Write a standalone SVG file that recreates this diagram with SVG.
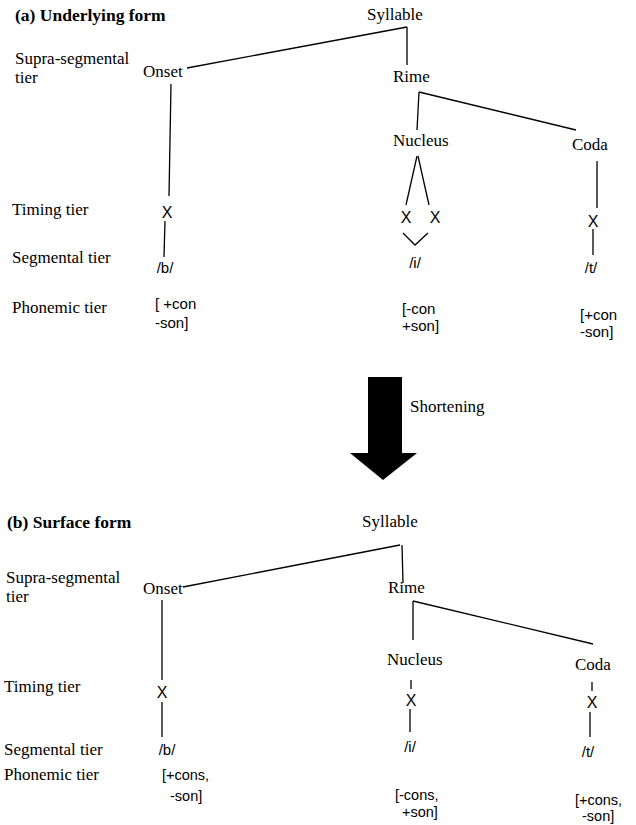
<svg xmlns="http://www.w3.org/2000/svg" width="636" height="825" viewBox="0 0 636 825">
<style>
.s{font-family:"Liberation Serif","Times New Roman",serif;font-size:17px;fill:#000}
.b{font-family:"Liberation Serif","Times New Roman",serif;font-size:17.5px;font-weight:bold;fill:#000}
.f{font-family:"Liberation Sans",Arial,sans-serif;font-size:15px;fill:#000}
.g{font-family:"Liberation Sans",Arial,sans-serif;font-size:14.5px;fill:#000}
.x{font-family:"Liberation Sans",Arial,sans-serif;font-size:16px;fill:#000;text-anchor:middle}
.m{text-anchor:middle}
.c line,.c polyline{stroke:#000;stroke-width:1.3;fill:none}
</style>
<rect width="636" height="825" fill="#fff"/>
<g id="labels-a">
<text class="b" x="15" y="21">(a) Underlying form</text>
<text class="s" x="15" y="64">Supra-segmental</text>
<text class="s" x="15" y="83">tier</text>
<text class="s" x="12" y="215">Timing tier</text>
<text class="s" x="12" y="263">Segmental tier</text>
<text class="s" x="12" y="313">Phonemic tier</text>
</g>
<g id="a-syllable"><text class="s" x="367" y="20">Syllable</text></g>
<g id="a-onset"><text class="s" x="143" y="77">Onset</text></g>
<g id="a-rime"><text class="s" x="393" y="82">Rime</text></g>
<g id="a-nucleus"><text class="s" x="393" y="146">Nucleus</text></g>
<g id="a-coda"><text class="s" x="572" y="150">Coda</text></g>
<g id="a-x-onset"><text class="x" x="167" y="218">X</text></g>
<g id="a-x-nuc1"><text class="x" x="406" y="223">X</text></g>
<g id="a-x-nuc2"><text class="x" x="435" y="223">X</text></g>
<g id="a-x-coda"><text class="x" x="593" y="227">X</text></g>
<g id="a-seg-b"><text class="f m" x="165" y="273">/b/</text></g>
<g id="a-seg-i"><text class="f m" x="415" y="268">/i/</text></g>
<g id="a-seg-t"><text class="f m" x="591" y="273">/t/</text></g>
<g id="a-feat-b"><text class="f" x="155" y="309">[ +con</text><text class="f" x="155" y="328">-son]</text></g>
<g id="a-feat-i"><text class="f" x="402" y="314">[-con</text><text class="f" x="402" y="331">+son]</text></g>
<g id="a-feat-t"><text class="f" x="580" y="320">[+con</text><text class="f" x="580" y="337">-son]</text></g>

<g id="arrow">
<rect x="368" y="377" width="34" height="77" fill="#000"/>
<polygon points="350,453 417,453 383,480" fill="#000"/>
<text class="s" x="410" y="412">Shortening</text>
</g>

<g id="labels-b">
<text class="b" x="7" y="528">(b) Surface form</text>
<text class="s" x="6" y="583">Supra-segmental</text>
<text class="s" x="6" y="602">tier</text>
<text class="s" x="4" y="692">Timing tier</text>
<text class="s" x="4" y="755">Segmental  tier</text>
<text class="s" x="4" y="780">Phonemic  tier</text>
</g>
<g id="b-syllable"><text class="s" x="362" y="527">Syllable</text></g>
<g id="b-onset"><text class="s" x="143" y="594">Onset</text></g>
<g id="b-rime"><text class="s" x="388" y="593">Rime</text></g>
<g id="b-nucleus"><text class="s" x="387" y="665">Nucleus</text></g>
<g id="b-coda"><text class="s" x="575" y="670">Coda</text></g>
<g id="b-x-onset"><text class="x" x="162" y="698">X</text></g>
<g id="b-x-nuc"><text class="x" x="411" y="706">X</text></g>
<g id="b-x-coda"><text class="x" x="592" y="708">X</text></g>
<g id="b-seg-b"><text class="f m" x="167" y="755">/b/</text></g>
<g id="b-seg-i"><text class="f m" x="410" y="752">/i/</text></g>
<g id="b-seg-t"><text class="f m" x="588" y="757">/t/</text></g>
<g id="b-feat-b"><text class="g" x="162" y="780">[+cons,</text><text class="g" x="170" y="801">-son]</text></g>
<g id="b-feat-i"><text class="g" x="395" y="800">[-cons,</text><text class="g" x="402" y="817">+son]</text></g>
<g id="b-feat-t"><text class="g" x="575" y="805">[+cons,</text><text class="g" x="582" y="821">-son]</text></g>

<g id="connectors" class="c">
<line x1="407" y1="27" x2="187" y2="68"/>
<line x1="407" y1="27" x2="407" y2="65"/>
<line x1="171" y1="84" x2="169" y2="196"/>
<line x1="165" y1="221" x2="164" y2="257"/>
<line x1="419" y1="92" x2="417" y2="130"/>
<line x1="419" y1="92" x2="576" y2="130"/>
<line x1="417" y1="156" x2="406" y2="205"/>
<line x1="418" y1="156" x2="429" y2="205"/>
<line x1="597" y1="161" x2="597" y2="208"/>
<polyline points="403,233 415,245 428,233"/>
<line x1="593" y1="229" x2="593" y2="255"/>

<line x1="400" y1="545" x2="183" y2="587"/>
<line x1="402" y1="545" x2="403" y2="583"/>
<line x1="162" y1="600" x2="162" y2="680"/>
<line x1="162" y1="702" x2="162" y2="737"/>
<line x1="413" y1="601" x2="413" y2="640"/>
<line x1="413" y1="601" x2="593" y2="644"/>
<line x1="411" y1="680" x2="411" y2="689"/>
<line x1="410" y1="709" x2="410" y2="732"/>
<line x1="592" y1="682" x2="592" y2="691"/>
<line x1="590" y1="712" x2="590" y2="737"/>
</g>
</svg>
